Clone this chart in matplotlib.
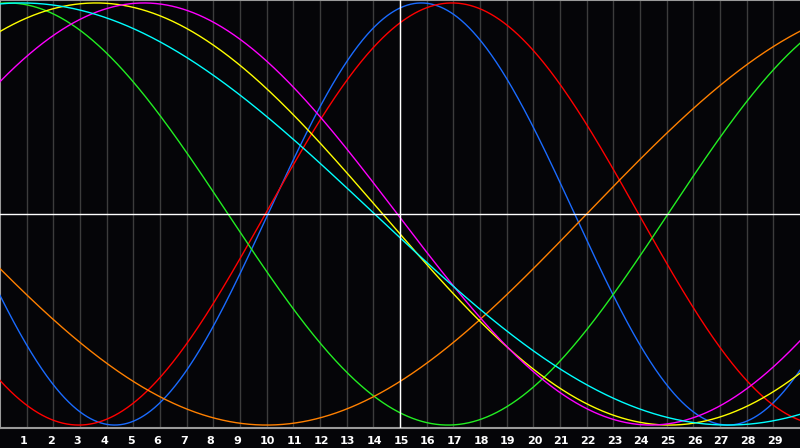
import numpy as np
import matplotlib
matplotlib.use("Agg")
import matplotlib.pyplot as plt
from matplotlib.transforms import ScaledTranslation

# Biorhythm cycles
cycle_names = ["Physical", "Emotional", "Intellectual", "Awareness", "Aesthetic", "Intuition", "Spiritual"]
cycle_periods = [23, 28, 33, 48, 43, 38, 53]             # days
cycle_peak_days = [15.8, 16.95, 0.3, 34.0, 3.6, 5.4, 0.8]  # day of a maximum
cycle_colors = ["#1a6bff", "#ff0000", "#22ee22", "#ff8000", "#ffff00", "#ff00ff", "#00ffff"]

day_labels = [str(d) for d in range(1, 30)]
day_ticks = list(range(1, 30))
today_day = 15

fig = plt.figure(figsize=(8, 4.48), dpi=100)
fig.patch.set_facecolor("#050508")
ax = fig.add_axes([0, 428/448*0 + 20/448, 1, 428/448])
ax.set_facecolor("#050508")
ax.set_xlim(0, 30)
ax.set_ylim(-1.014, 1.014)

for x in day_ticks:
    ax.axvline(x, color="#3c3c3c", lw=1.0, zorder=1)

t = np.linspace(0, 30, 1201)
for p, pk, c in zip(cycle_periods, cycle_peak_days, cycle_colors):
    ax.plot(t, np.cos(2 * np.pi * (t - pk) / p), color=c, lw=1.0, zorder=3)

ax.axhline(0, color="white", lw=1.0, zorder=4)
ax.axvline(today_day, color="white", lw=1.0, zorder=4)

for s in ["right"]:
    ax.spines[s].set_visible(False)
for s in ["left", "top", "bottom"]:
    ax.spines[s].set_color("#9a9a9a")
    ax.spines[s].set_linewidth(1.5)

ax.set_yticks([])
ax.set_xticks(day_ticks)
ax.set_xticklabels(day_labels, color="white", fontsize=8, fontweight="bold", family="DejaVu Sans")
ax.tick_params(axis="x", length=0, pad=6)
off = ScaledTranslation(-6.5 / 100, 0, fig.dpi_scale_trans)
for lab in ax.get_xticklabels():
    lab.set_horizontalalignment("left")
    lab.set_transform(lab.get_transform() + off)

fig.savefig("out.png", dpi=100, facecolor=fig.get_facecolor())
